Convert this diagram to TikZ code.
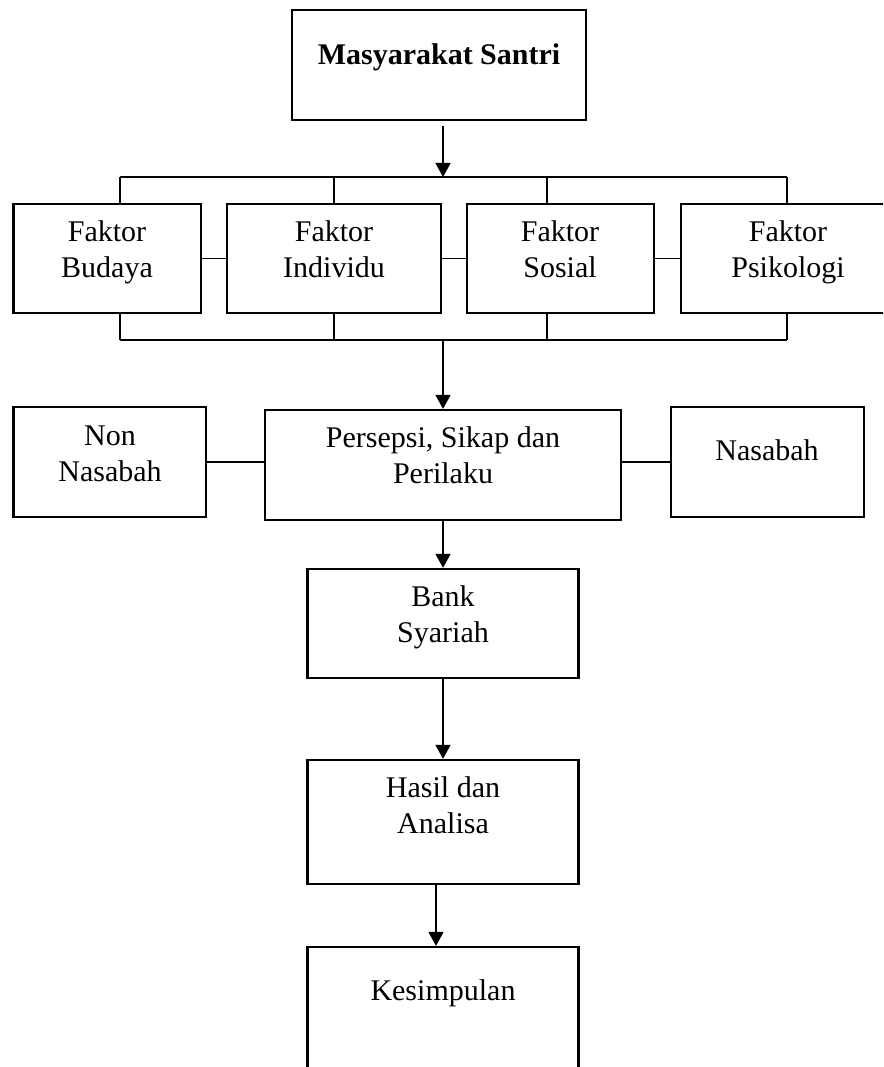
\documentclass[tikz,border=0pt]{standalone}
\usepackage{fontspec}
\setmainfont{Liberation Serif}
\usetikzlibrary{arrows.meta}
\begin{document}
\begin{tikzpicture}[x=1pt,y=-1pt,
  box/.style={draw, line width=2.3pt, rectangle, inner sep=0pt},
  txt/.style={font=\fontsize{30}{35.5}\selectfont, inner sep=0pt, anchor=base, align=center},
  conn/.style={line width=1.8pt},
  arr/.style={line width=1.5pt, -{Triangle[length=14pt,width=15pt]}}]
\useasboundingbox (0,0) rectangle (883,1067);
\clip (0,0) rectangle (883,1067);
% boxes
\node[box, minimum width=294pt, minimum height=110pt] (top) at (439,65) {};
\node[box, minimum width=187.5pt, minimum height=109pt] (f1) at (107.25,258.5) {};
\node[box, minimum width=214pt, minimum height=109pt] (f2) at (334,258.5) {};
\node[box, minimum width=187pt, minimum height=109pt] (f3) at (560.5,258.5) {};
\node[box, minimum width=214pt, minimum height=109pt] (f4) at (788,258.5) {};
\node[box, minimum width=192.5pt, minimum height=110pt] (non) at (109.75,462) {};
\node[box, minimum width=356pt, minimum height=110pt] (pers) at (443,465) {};
\node[box, minimum width=193pt, minimum height=110pt] (nas) at (767.5,462) {};
\node[box, minimum width=271pt, minimum height=109pt] (bank) at (443,623.5) {};
\node[box, minimum width=271pt, minimum height=124pt] (hasil) at (443,822) {};
\node[box, minimum width=271pt, minimum height=143pt] (kes) at (443,1018.5) {};
% texts (base anchor = baseline of last line)
\node[txt, font=\fontsize{30}{35.5}\selectfont\bfseries] (ttop) at (439,65) {Masyarakat Santri};
\node[txt] (tf1) at (107,277) {Faktor\\Budaya};
\node[txt] (tf2) at (334,277) {Faktor\\Individu};
\node[txt] (tf3) at (560,277) {Faktor\\Sosial};
\node[txt] (tf4) at (788,277) {Faktor\\Psikologi};
\node[txt] (tnon) at (110,481) {Non\\Nasabah};
\node[txt] (tpers) at (443,483) {Persepsi, Sikap dan\\Perilaku};
\node[txt] (tnas) at (767,460) {Nasabah};
\node[txt] (tbank) at (443,642) {Bank\\Syariah};
\node[txt] (thasil) at (443,833) {Hasil dan\\Analisa};
\node[txt] (tkes) at (443,1000) {Kesimpulan};
% bus coordinates
\coordinate (tA) at (120,177);
\coordinate (tB) at (334,177);
\coordinate (tC) at (547,177);
\coordinate (tD) at (787,177);
\coordinate (tM) at (443,177);
\coordinate (bA) at (120,340);
\coordinate (bB) at (334,340);
\coordinate (bC) at (547,340);
\coordinate (bD) at (787,340);
\coordinate (bM) at (443,340);
% top arrow and bus
\draw[arr] ([yshift=-5pt]top.south -| tM) -- (tM);
\draw[conn] (tA) -- (tD);
\draw[conn] (tA) -- (tA |- f1.north);
\draw[conn] (tB) -- (tB |- f2.north);
\draw[conn] (tC) -- (tC |- f3.north);
\draw[conn] (tD) -- (tD |- f4.north);
% side links
\draw[conn] (f1.east) -- (f2.west);
\draw[conn] (f2.east) -- (f3.west);
\draw[conn] (f3.east) -- (f4.west);
% bottom bus
\draw[conn] (bA) -- (bD);
\draw[conn] (bA) -- (bA |- f1.south);
\draw[conn] (bB) -- (bB |- f2.south);
\draw[conn] (bC) -- (bC |- f3.south);
\draw[conn] (bD) -- (bD |- f4.south);
\draw[arr] (bM) -- (bM |- pers.north);
% middle links
\draw[conn] (non.east) -- (non.east -| pers.west);
\draw[conn] (nas.west -| pers.east) -- (nas.west);
% vertical chain
\draw[arr] (pers.south) -- (bank.north);
\draw[arr] (bank.south) -- (hasil.north);
\draw[arr] ([xshift=-7pt]hasil.south) -- ([xshift=-7pt]kes.north);
\end{tikzpicture}
\end{document}
